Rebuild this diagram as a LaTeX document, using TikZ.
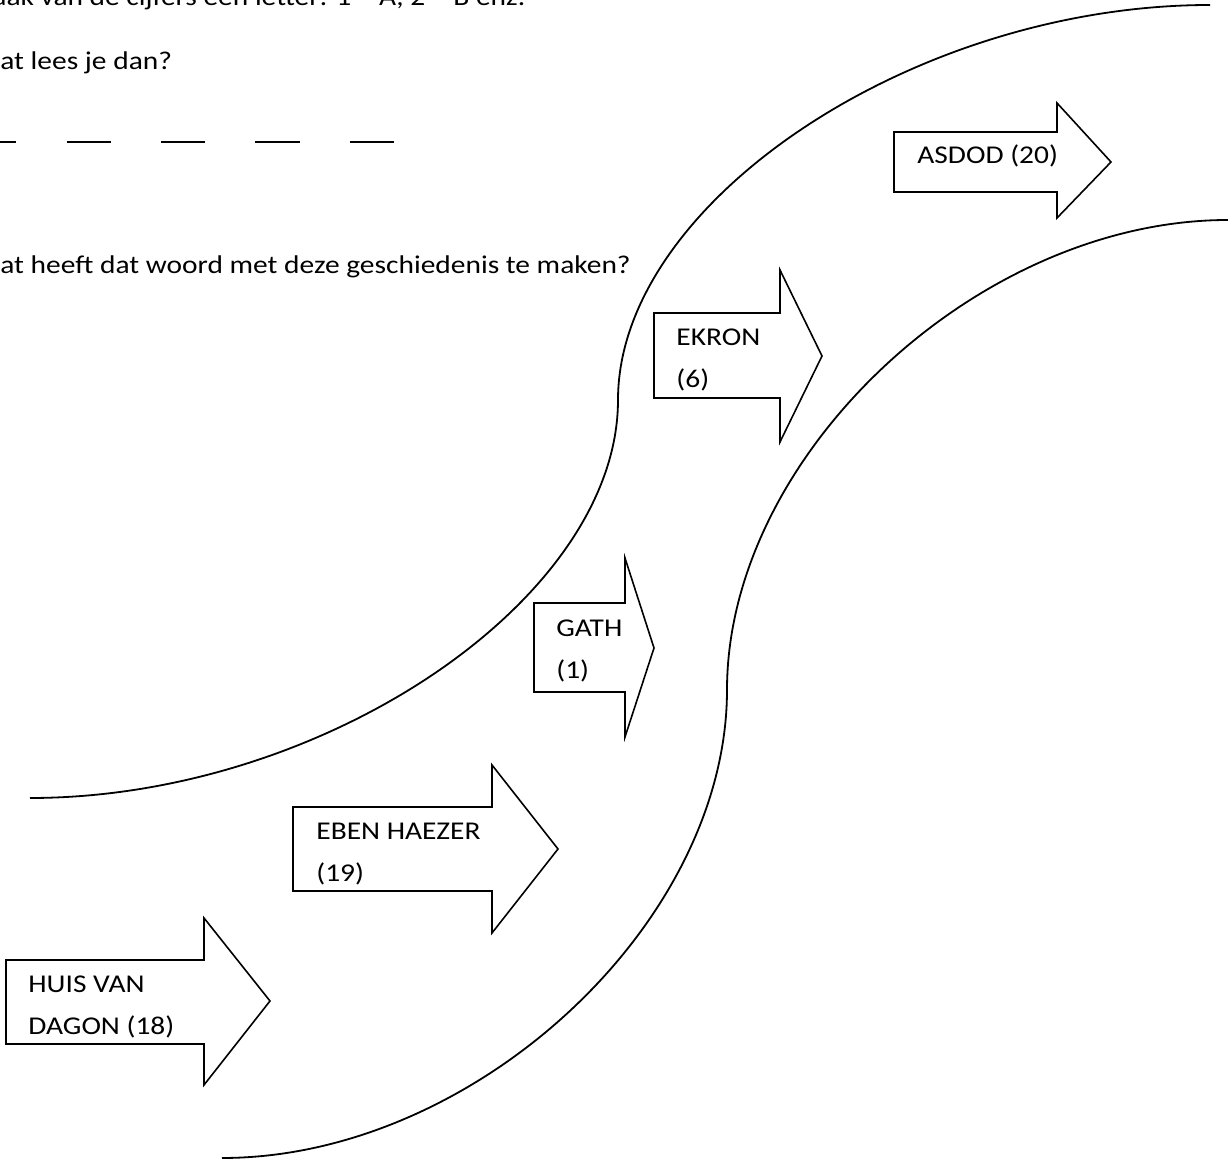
\documentclass[tikz,border=0pt]{standalone}
\usepackage{fontspec}
\setmainfont{Carlito}[FakeStretch=1.15]
\tikzset{
  oever/.style={line width=0.9pt},
  pijl/.style={line width=0.8pt, line join=miter},
  streep/.style={line width=1pt},
  tekst/.style={anchor=base west, align=left, inner sep=0pt,
    font=\fontsize{12.8}{21}\selectfont},
}
\begin{document}
\begin{tikzpicture}[x=0.5pt,y=-0.5pt]
  \useasboundingbox (0,0) rectangle (1228,1159);
  \begin{scope}
    \clip (0,0) rectangle (1228,1159);
    % vragen bovenaan
    \node[tekst] (maak) at (-8,6) {\llap{M}aak van de cijfers een letter: 1 = A, 2 = B enz.};
    \node[tekst] (lees) at (0,70) {\llap{W}at lees je dan?};
    \node[tekst] (woord) at (0,274) {\llap{W}at heeft dat woord met deze geschiedenis te maken?};
    \draw[streep] (-20,142) -- (16,142);
    \draw[streep] (67,142) -- (111,142);
    \draw[streep] (161,142) -- (205,142);
    \draw[streep] (255,142) -- (300,142);
    \draw[streep] (350,142) -- (394,142);
    % de oevers
    \draw[oever] (30,798) .. controls (324,798) and (618,599) .. (618,400)
      .. controls (618,202) and (914,5) .. (1210,5);
    \draw[oever] (222,1158) .. controls (474,1158) and (727,924) .. (727,690)
      .. controls (727,455) and (978,220) .. (1228,220);
    % pijlen (tekst staat op de basislijn van de onderste regel)
    \draw[pijl] (6,960) -- (204,960) -- (204,918) -- (270,1001)
      -- (204,1085) -- (204,1044) -- (6,1044) -- cycle;
    \node[tekst] (dagon) at (28,1035) {HUIS VAN\\DAGON (18)};
    \draw[pijl] (293,807) -- (492,807) -- (492,765) -- (558,849)
      -- (492,933) -- (492,891) -- (293,891) -- cycle;
    \node[tekst] (ebenhaezer) at (316,882) {EBEN HAEZER\\(19)};
    \draw[pijl] (534,603) -- (625,603) -- (625,558) -- (654,648)
      -- (625,737) -- (625,692) -- (534,692) -- cycle;
    \node[tekst] (gath) at (556,679) {GATH\\(1)};
    \draw[pijl] (654,313) -- (780,313) -- (780,270) -- (822,356)
      -- (780,442) -- (780,398) -- (654,398) -- cycle;
    \node[tekst] (ekron) at (676,388) {EKRON\\(6)};
    \draw[pijl] (894,132) -- (1057,132) -- (1057,103) -- (1111,162)
      -- (1057,218) -- (1057,192) -- (894,192) -- cycle;
    \node[tekst] (asdod) at (917,164) {ASDOD (20)};
  \end{scope}
\end{tikzpicture}
\end{document}
